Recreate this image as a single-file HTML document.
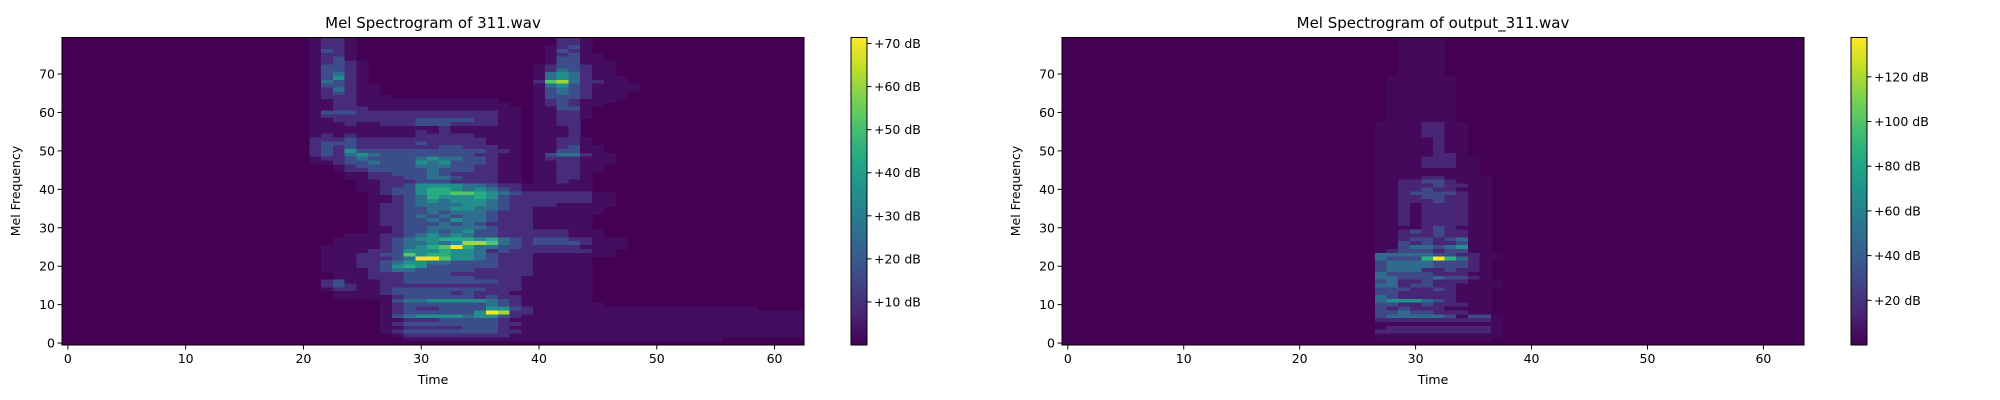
<!DOCTYPE html>
<html><head><meta charset="utf-8"><style>
html,body{margin:0;padding:0;background:#fff;}
svg{display:block;font-family:"DejaVu Sans","Liberation Sans",sans-serif;}
</style></head><body>
<svg id="chart" width="2000" height="400" viewBox="0 0 2000 400" xmlns="http://www.w3.org/2000/svg">
<defs>
<linearGradient id="vir" x1="0" y1="1" x2="0" y2="0">
<stop offset="0" stop-color="#440154"/><stop offset="0.1" stop-color="#482475"/><stop offset="0.2" stop-color="#414487"/><stop offset="0.3" stop-color="#355f8d"/><stop offset="0.4" stop-color="#2a788e"/><stop offset="0.5" stop-color="#21918c"/><stop offset="0.6" stop-color="#22a884"/><stop offset="0.7" stop-color="#44bf70"/><stop offset="0.8" stop-color="#7ad151"/><stop offset="0.9" stop-color="#bddf26"/><stop offset="1" stop-color="#fde725"/>
</linearGradient>
</defs>
</svg>
<script>
const xTicks = [0,10,20,30,40,50,60];
const yTicks = [0,10,20,30,40,50,60,70];
const leftTitle = "Mel Spectrogram of 311.wav";
const rightTitle = "Mel Spectrogram of output_311.wav";
const leftCbarTicks = [10,20,30,40,50,60,70];
const rightCbarTicks = [20,40,60,80,100,120];
const leftLevelDb = [0,2.5,9,17,26,35,44,52,61,71];
const rightLevelDb = [0,3,14,30,48,68,88,105,120,137];
const leftColStart = 20;
const rightColStart = 20;
const leftRows = [
"0122100000 0000000000 0022100000",
"0122100000 0000000000 0022100000",
"0122100000 0000000000 0123100000",
"0132100000 0000000000 0132100000",
"0122100000 0000000000 0123110000",
"0123100000 0000000000 0133110000",
"0123210000 0000000000 0133111000",
"0133210000 0000000000 1233211000",
"0133210000 0000000000 1243211000",
"0134210000 0000000000 1454211000",
"0135210000 0000000000 1454211100",
"0143210000 0000000000 2784221100",
"0133211000 0000000000 1453211110",
"0124211000 0000000000 1343211110",
"0123211000 0000000000 1343211100",
"0122211100 0000000000 1333211100",
"0112211111 1111111000 1232111000",
"0112211111 1111111100 1232110000",
"0112221111 1111111110 1133100000",
"0133322222 2222222110 1122100000",
"0122222222 2222222110 1122100000",
"0112222222 3333322110 1122000000",
"0111211222 3332222110 1122000000",
"0111111111 1121111110 1112000000",
"0111111111 2121111110 1112000000",
"0121211111 2222211110 1112000000",
"0222322222 2222221110 1122100000",
"0233322222 3222221110 1122100000",
"0232322222 2233222110 1123110000",
"0232533333 3333332210 1133110000",
"0232454333 3333322110 1344211000",
"0122343333 4544332110 1222111000",
"0112334333 5453332110 1122111000",
"0001233333 4443322110 1122110000",
"0001223333 3433322110 1122110000",
"0000112233 3432222110 1122100000",
"0000112223 3443222110 1122100000",
"0000011222 3332222110 1121100000",
"0000011223 5555443221 1111100000",
"0000011233 5665454321 1111100000",
"0000001233 5667765432 2222211000",
"0000001123 4655565322 2222211000",
"0000001123 4545554322 2222211000",
"0000001223 4444554322 2211111000",
"0000001223 3445544322 1111110000",
"0000001223 3434443222 1111110000",
"0000001223 4343443222 1111100000",
"0000001223 3435443222 1111100000",
"0000001223 3343432222 1111100000",
"0000001123 3444443222 1111100000",
"0000001123 3434533222 2221110000",
"0000111223 4545433222 2221110000",
"0001111234 5566656432 3332211100",
"0001111234 4545887432 3333211100",
"0011111234 5679644332 2222111100",
"0011112235 5565542322 2222211000",
"0011122337 5665543222 1111111000",
"0011122234 9975543222 1111100000",
"0011122345 5443333222 1111100000",
"0011122356 5333333222 1111100000",
"0011112344 3333322222 1111100000",
"0001112223 3332222222 1111100000",
"0001112223 3333322221 1111100000",
"0023111223 3333333221 1111100000",
"0023211222 2222222221 1111100000",
"0012211233 3333332221 1111100000",
"0001111233 3332322211 1111100000",
"0001111123 3333323221 1111100000",
"0000000134 4555554321 1111100000",
"0000000123 3333334321 1111110000",
"0000000123 2233335532 1111111111 1111111110000",
"0000000123 3333359822 1111111111 1111111111111",
"0000000134 5555455321 1111111111 1111111111111",
"0000000112 2233333211 1111111111 1111111111111",
"0000000123 3333333221 1111111111 1111111111111",
"0000000112 2222333211 1111111111 1111111111111",
"0000000123 3333333221 1111111111 1111111111111",
"0000000012 2222222211 1111111111 1111111111111",
"0000000001 1111111111 1111111111 1111110000000",
"0000000000 0000000000 0000000000"
];
const rightRows = [
"0000000001 1110000000","0000000001 1110000000","0000000001 1110000000","0000000001 1110000000",
"0000000001 1110000000","0000000001 1110000000","0000000001 1110000000","0000000001 1110000000",
"0000000001 1110000000","0000000001 1110000000",
"0000000011 1111000000","0000000011 1111000000","0000000011 1111000000","0000000011 1111000000",
"0000000011 1111000000","0000000011 1111000000","0000000011 1111000000","0000000011 1111000000",
"0000000011 1111000000","0000000011 1111000000","0000000011 1111000000","0000000011 1111000000",
"0000000111 1221100000","0000000111 1221100000","0000000111 1221100000","0000000111 1221100000",
"0000000111 1121100000","0000000111 1121100000","0000000111 1121100000","0000000111 1121100000",
"0000000111 1122100000",
"0000000111 1222110000","0000000111 1222110000","0000000111 1222110000",
"0000000111 1111110000","0000000111 1111110000",
"0000000111 1221111000",
"0000000112 2332111000",
"0000000112 2232211000",
"0000000112 2322111000",
"0000000112 3333211000",
"0000000112 2332211000",
"0000000112 2232211000",
"0000000112 1222211000","0000000112 1222211000","0000000112 1222211000",
"0000000112 1222211000","0000000112 1222211000","0000000112 1222211000",
"0000000111 1232111000",
"0000000112 3232211000",
"0000000112 2232211000",
"0000000112 3323411000",
"0000000113 2322311000",
"0000000113 4434511000",
"0000000123 3323311000",
"0000000444 4433221100",
"0000000433 3696421100",
"0000000344 4433321000",
"0000000344 4433321000",
"0000000344 4223221000",
"0000000433 3322211000",
"0000000443 3343321000",
"0000000342 2322211100",
"0000000442 3322111100",
"0000000333 2232111000",
"0000000332 2222111000",
"0000000432 2222111000",
"0000000455 5432111000",
"0000000332 2322211000",
"0000000323 2221111000",
"0000000334 3322211000",
"0000000344 4443133100",
"0000000222 2222222100",
"0000000111 1111111100",
"0000000122 2222222100",
"0000000222 2222222100",
"0000000111 1111111100",
"0000000111 1111111000",
"0000000000 0000000000"
];

const NS = "http://www.w3.org/2000/svg";
const svg = document.getElementById("chart");
const VIR = ["#440154","#482475","#414487","#355f8d","#2a788e","#21918c","#22a884","#44bf70","#7ad151","#bddf26","#fde725"];
function hex(c){return [parseInt(c.slice(1,3),16),parseInt(c.slice(3,5),16),parseInt(c.slice(5,7),16)];}
function viridis(f){
  f=Math.max(0,Math.min(1,f)); const p=f*10; const i=Math.min(9,Math.floor(p)); const t=p-i;
  const a=hex(VIR[i]), b=hex(VIR[i+1]);
  return "rgb("+a.map((v,k)=>Math.round(v+(b[k]-v)*t)).join(",")+")";
}
function el(tag, attrs, parent){const e=document.createElementNS(NS,tag);for(const k in attrs)e.setAttribute(k,attrs[k]);(parent||svg).appendChild(e);return e;}

function drawPanel(o){
  const g = el("g",{});
  
  
  const L=o.left, R=o.right, T=37.5, B=345;
  const nCols=o.nCols, nRows=80;
  const xS = v => L + (v+0.5)/nCols*(R-L);
  const yS = v => B - (v+0.5)/nRows*(B-T);
  const vmax=o.vmax;
  const bg = el("rect",{x:L,y:T,width:R-L,height:B-T,fill:"#440154"},g);
  
  
  const cells = el("g",{"shape-rendering":"crispEdges"},g);
  
  
  o.rows.forEach((rowStr,ri)=>{
    const m = nRows-1-ri;
    const s = rowStr.replace(/ /g,"");
    for(let j=0;j<s.length;j++){
      const lv=+s[j]; if(!lv) continue;
      const t=o.colStart+j; if(t>=nCols) continue;
      const db=o.levelDb[lv];
      const x0=xS(t-0.5), x1=xS(t+0.5), y0=yS(m+0.5), y1=yS(m-0.5);
      const r = el("rect",{x:x0.toFixed(2),y:y0.toFixed(2),width:(x1-x0+0.4).toFixed(2),height:(y1-y0+0.4).toFixed(2),fill:viridis(db/vmax)},cells);
      
      
    }
  });
  const fr = el("rect",{x:L,y:T,width:R-L,height:B-T,fill:"none",stroke:"#000","stroke-width":1},g);
  
  
  xTicks.forEach(v=>{
    const x=xS(v);
    const tk = el("line",{x1:x,y1:B,x2:x,y2:B+4.5,stroke:"#000","stroke-width":1},g);
    
    
    const tx = el("text",{x:x,y:B+18,"font-size":"12.5","text-anchor":"middle",fill:"#000"},g);
    tx.textContent=v;
    
    
  });
  yTicks.forEach(v=>{
    const y=yS(v);
    const tk = el("line",{x1:L-4.5,y1:y,x2:L,y2:y,stroke:"#000","stroke-width":1},g);
    
    
    const tx = el("text",{x:L-7,y:y+4.5,"font-size":"12.5","text-anchor":"end",fill:"#000"},g);
    tx.textContent=v;
    
    
  });
  const xl = el("text",{x:(L+R)/2,y:384,"font-size":"12.5","text-anchor":"middle",fill:"#000"},g);
  xl.textContent="Time";
  
  
  const yl = el("text",{x:0,y:0,"font-size":"12.5","text-anchor":"middle",fill:"#000",transform:"translate("+(L-42)+",191) rotate(-90)"},g);
  yl.textContent="Mel Frequency";
  
  
  const tt = el("text",{x:(L+R)/2,y:28,"font-size":"15","text-anchor":"middle",fill:"#000"},g);
  tt.textContent=o.title;
  
  
  const cL=o.cbLeft, cW=16;
  const cb = el("rect",{x:cL,y:T,width:cW,height:B-T,fill:"url(#vir)",stroke:"#000","stroke-width":1},g);
  
  
  o.cbTicks.forEach(v=>{
    const y=B-(v/vmax)*(B-T);
    const tk = el("line",{x1:cL+cW,y1:y,x2:cL+cW+4.5,y2:y,stroke:"#000","stroke-width":1},g);
    
    
    const tx = el("text",{x:cL+cW+7,y:y+4.5,"font-size":"12.5",fill:"#000"},g);
    tx.textContent="+"+v+" dB";
    
    
  });
}
drawPanel({name:"left-spectrogram-panel",left:62,right:804,nCols:63,rows:leftRows,colStart:leftColStart,levelDb:leftLevelDb,vmax:71.4,title:leftTitle,cbLeft:851,cbTicks:leftCbarTicks});
drawPanel({name:"right-spectrogram-panel",left:1062,right:1804,nCols:64,rows:rightRows,colStart:rightColStart,levelDb:rightLevelDb,vmax:137.6,title:rightTitle,cbLeft:1851,cbTicks:rightCbarTicks});
</script>
</body></html>
